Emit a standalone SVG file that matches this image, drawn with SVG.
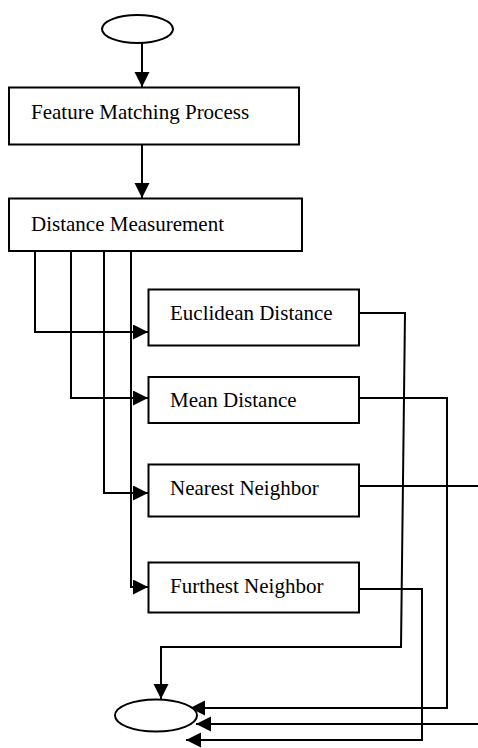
<svg xmlns="http://www.w3.org/2000/svg" width="478" height="748" viewBox="0 0 478 748">
<style>
.box{fill:#fff;stroke:#000;stroke-width:2}
.term{fill:#fff;stroke:#000;stroke-width:2}
.lbl{font-family:"Liberation Serif","Times New Roman",serif;font-size:21px;fill:#000}
.c{fill:none;stroke:#000;stroke-width:2}
</style>
<defs>
<marker id="ah" markerUnits="userSpaceOnUse" markerWidth="16" markerHeight="16" refX="15" refY="7.5" orient="auto">
<path d="M0,0 L15,7.5 L0,15 z" fill="#000"/>
</marker>
</defs>
<g id="connectors">
<path class="c" d="M142,43 V87" marker-end="url(#ah)"/>
<path class="c" d="M142,145 V198" marker-end="url(#ah)"/>
<path class="c" d="M35,251 V332 H148" marker-end="url(#ah)"/>
<path class="c" d="M71,251 V398 H148" marker-end="url(#ah)"/>
<path class="c" d="M104,251 V493 H148" marker-end="url(#ah)"/>
<path class="c" d="M131,251 V587 H148" marker-end="url(#ah)"/>
<path class="c" d="M359,313 H405 L401,647 H161 V699" marker-end="url(#ah)"/>
<path class="c" d="M359,398 H447 V708 H190" marker-end="url(#ah)"/>
<path class="c" d="M359,486 H480"/>
<path class="c" d="M480,724 H196" marker-end="url(#ah)"/>
<path class="c" d="M359,589 H422 V740 H186" marker-end="url(#ah)"/>
</g>
<g id="start"><ellipse class="term" cx="137.5" cy="29" rx="35.5" ry="14"/></g>
<g id="feature"><rect class="box" x="9" y="87.5" width="290" height="57"/><text class="lbl" x="31" y="118.5">Feature Matching Process</text></g>
<g id="distance"><rect class="box" x="9" y="198.5" width="293" height="52.5"/><text class="lbl" x="31" y="230.5">Distance Measurement</text></g>
<g id="euclidean"><rect class="box" x="148.5" y="289.5" width="210.5" height="56"/><text class="lbl" x="170" y="320">Euclidean Distance</text></g>
<g id="mean"><rect class="box" x="148.5" y="377" width="210.5" height="46"/><text class="lbl" x="170" y="406.5">Mean Distance</text></g>
<g id="nearest"><rect class="box" x="148.5" y="464.5" width="210.5" height="52"/><text class="lbl" x="170" y="495">Nearest Neighbor</text></g>
<g id="furthest"><rect class="box" x="148.5" y="562.5" width="210.5" height="50"/><text class="lbl" x="170" y="592.5">Furthest Neighbor</text></g>
<g id="end"><ellipse class="term" cx="156" cy="715.5" rx="41" ry="16"/></g>
</svg>
